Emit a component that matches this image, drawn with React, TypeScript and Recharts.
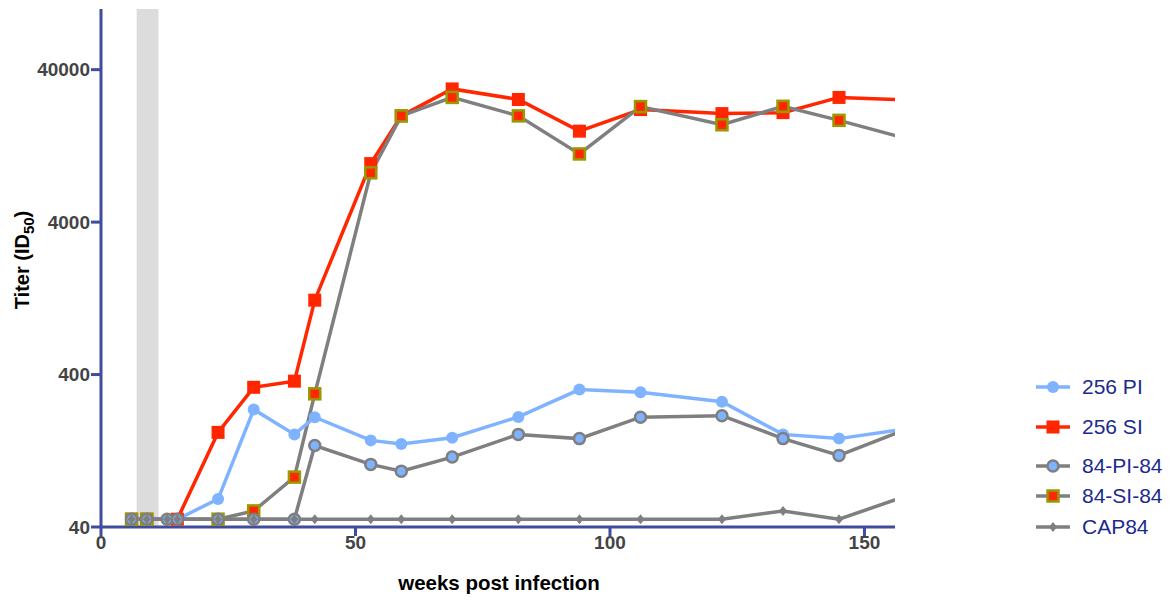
import { LineChart, Line, XAxis, YAxis, ReferenceArea } from "recharts";

// weeks post infection / neutralizing titer per group
const weeks256PI = [6, 9, 13, 15, 23, 30, 38, 42, 53, 59, 69, 82, 94, 106, 122, 134, 145, 160];
const titer256PI = [45, 45, 45, 45, 61, 236, 162, 210, 148, 140, 154, 211, 319, 306, 265, 162, 152, 180];

const weeks256SI = [6, 9, 15, 23, 30, 38, 42, 53, 59, 69, 82, 94, 106, 122, 134, 145, 160];
const titer256SI = [45, 45, 45, 167, 330, 362, 1230, 9680, 19900, 29900, 25500, 15800, 21900, 20600, 20900, 26300, 25200];

const weeks84PI = [6, 9, 13, 15, 23, 30, 38, 42, 53, 59, 69, 82, 94, 106, 122, 134, 145, 160];
const titer84PI = [45, 45, 45, 45, 45, 45, 45, 137, 103, 93, 115, 162, 152, 210, 215, 152, 118, 185];

const weeks84SI = [6, 9, 23, 30, 38, 42, 53, 59, 69, 82, 94, 106, 122, 134, 145, 160];
const titer84SI = [45, 45, 45, 51, 85, 299, 8420, 19900, 26300, 19900, 11200, 22900, 17400, 23000, 18600, 13600];

const weeksCAP84 = [6, 9, 13, 15, 23, 30, 38, 42, 53, 59, 69, 82, 94, 106, 122, 134, 145, 160];
const titerCAP84 = [45, 45, 45, 45, 45, 45, 45, 45, 45, 45, 45, 45, 45, 45, 45, 51, 45, 67];

const xTicks = [0, 50, 100, 150];
const yTicks = [40, 400, 4000, 40000];
const legendNames = ["256 PI", "256 SI", "84-PI-84", "84-SI-84", "CAP84"];

const zip = (w: number[], t: number[]) => w.map((week, i) => ({ week, titer: t[i] }));

const FONT = "'Liberation Sans', Arial, sans-serif";
const AXIS = "#3f4d9c";
const BLUE = "#7fb3ff";
const RED = "#ff2600";
const GRAY = "#7f7f7f";
const OLIVE = "#999900";

type Mark = "circle" | "square" | "ringed" | "boxed" | "diamond";

const shape = (mark: Mark, cx: number, cy: number, key?: number) => {
  switch (mark) {
    case "circle":
      return <circle key={key} cx={cx} cy={cy} r={6} fill={BLUE} />;
    case "ringed":
      return <circle key={key} cx={cx} cy={cy} r={5.5} fill={BLUE} stroke={GRAY} strokeWidth={2.5} />;
    case "square":
      return <rect key={key} x={cx - 6.5} y={cy - 6.5} width={13} height={13} fill={RED} />;
    case "boxed":
      return (
        <rect key={key} x={cx - 5.5} y={cy - 5.5} width={11} height={11} fill={RED} stroke={OLIVE} strokeWidth={2.5} />
      );
    default:
      return <polygon key={key} points={`${cx},${cy - 5} ${cx + 4},${cy} ${cx},${cy + 5} ${cx - 4},${cy}`} fill={GRAY} />;
  }
};

const dotOf = (mark: Mark) => (props: any) => {
  const { cx, cy, index } = props;
  if (cx == null || cy == null) return <g key={index} />;
  return shape(mark, cx, cy, index);
};

const legendRows: { name: string; color: string; mark: Mark; y: number }[] = [
  { name: legendNames[0], color: BLUE, mark: "circle", y: 387 },
  { name: legendNames[1], color: RED, mark: "square", y: 427 },
  { name: legendNames[2], color: GRAY, mark: "ringed", y: 466 },
  { name: legendNames[3], color: GRAY, mark: "boxed", y: 496 },
  { name: legendNames[4], color: GRAY, mark: "diamond", y: 527 },
];

const tickStyle = { fill: "#444", fontSize: 19, fontWeight: "bold", fontFamily: FONT };

export default function App() {
  return (
    <div style={{ position: "absolute", left: 0, top: 0, width: 1172, height: 601, fontFamily: FONT }}>
      <LineChart width={1172} height={601} margin={{ top: 9, right: 277, bottom: 34, left: 41 }}>
        <ReferenceArea x1={7} x2={11.3} fill="#dcdcdc" fillOpacity={1} stroke="none" />
        <XAxis
          type="number"
          dataKey="week"
          domain={[0, 156]}
          allowDataOverflow
          ticks={xTicks}
          height={40}
          tickSize={9}
          tickMargin={0}
          tick={tickStyle}
          axisLine={{ stroke: AXIS, strokeWidth: 3 }}
          tickLine={{ stroke: AXIS, strokeWidth: 3 }}
        />
        <YAxis
          type="number"
          dataKey="titer"
          scale="log"
          domain={[40, 100000]}
          allowDataOverflow
          ticks={yTicks}
          width={60}
          tickSize={10}
          tickMargin={1}
          tick={tickStyle}
          axisLine={{ stroke: AXIS, strokeWidth: 3 }}
          tickLine={{ stroke: AXIS, strokeWidth: 3 }}
        />
        <Line data={zip(weeks256SI, titer256SI)} dataKey="titer" stroke={RED} strokeWidth={3.5} dot={dotOf("square")} activeDot={false} isAnimationActive={false} />
        <Line data={zip(weeks84SI, titer84SI)} dataKey="titer" stroke={GRAY} strokeWidth={3.5} dot={dotOf("boxed")} activeDot={false} isAnimationActive={false} />
        <Line data={zip(weeks256PI, titer256PI)} dataKey="titer" stroke={BLUE} strokeWidth={3.5} dot={dotOf("circle")} activeDot={false} isAnimationActive={false} />
        <Line data={zip(weeks84PI, titer84PI)} dataKey="titer" stroke={GRAY} strokeWidth={3.5} dot={dotOf("ringed")} activeDot={false} isAnimationActive={false} />
        <Line data={zip(weeksCAP84, titerCAP84)} dataKey="titer" stroke={GRAY} strokeWidth={3.5} dot={dotOf("diamond")} activeDot={false} isAnimationActive={false} />
      </LineChart>

      {/* axis titles */}
      <div
        style={{
          position: "absolute",
          left: 24,
          top: 260,
          transform: "translate(-50%, -50%) rotate(-90deg)",
          whiteSpace: "nowrap",
          fontWeight: "bold",
          fontSize: 20,
          color: "#000",
        }}
      >
        Titer (ID<sub style={{ fontSize: 15 }}>50</sub>)
      </div>
      <div
        style={{
          position: "absolute",
          left: 499,
          top: 583,
          transform: "translate(-50%, -50%)",
          whiteSpace: "nowrap",
          fontWeight: "bold",
          fontSize: 20.5,
          color: "#000",
        }}
      >
        weeks post infection
      </div>

      {/* legend */}
      {legendRows.map((r) => (
        <div key={r.name} style={{ position: "absolute", left: 1036, top: r.y - 12, height: 24, display: "flex", alignItems: "center" }}>
          <svg width={34} height={20}>
            <line x1={0} y1={10} x2={34} y2={10} stroke={r.color} strokeWidth={3.5} />
            {shape(r.mark, 17, 10)}
          </svg>
          <span style={{ marginLeft: 12, fontSize: 21, color: "#1b2a8f", whiteSpace: "nowrap" }}>{r.name}</span>
        </div>
      ))}
    </div>
  );
}
